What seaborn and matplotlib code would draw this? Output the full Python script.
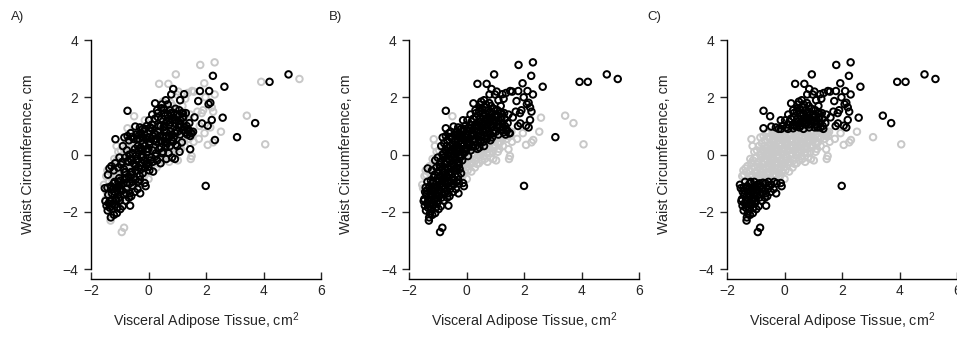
import matplotlib
matplotlib.use("Agg")
import matplotlib.pyplot as plt
import pandas as pd
import seaborn as sns

# Visceral adipose tissue (x) and waist circumference (y), same subjects in all panels
vat = [
    -1.52, -1.48, -1.46, -1.50, -1.45, -1.55, -1.47, -1.43,
    -1.42, -1.38, -1.40, -1.43, -1.37, -1.41, -1.36, -1.39, -1.35,
    -1.31, -1.28, -1.32, -1.27, -1.30, -1.25, -1.33, -1.29, -1.26, -1.30, -1.24, -1.32,
    -1.20, -1.18, -1.22, -1.17, -1.20, -1.15, -1.21, -1.16, -1.19, -1.14, -1.23, -1.18,
    -1.10, -1.08, -1.12, -1.07, -1.10, -1.05, -1.12, -1.06, -1.10, -1.15, -1.05, -1.09, -1.03, -1.11,
    -0.98, -1.00, -0.96, -1.02, -0.97, -1.00, -0.95, -1.01, -0.96, -0.99, -0.94, -0.93, -0.85,
    -0.90, -0.88, -0.92, -0.87, -0.90, -0.86, -0.91, -0.85, -0.89, -0.84, -0.88, -0.83,
    -0.80, -0.78, -0.82, -0.77, -0.80, -0.76, -0.81, -0.75, -0.79, -0.73, -0.73, -0.73, -0.77, -0.74,
    -0.64, -0.68, -0.70, -0.66, -0.69, -0.65, -0.70, -0.67, -0.63, -0.68, -0.62, -0.66, -0.61,
    -0.60, -0.58, -0.56, -0.60, -0.55, -0.59, -0.54, -0.57, -0.52, -0.56, -0.50, -0.58, -0.53,
    -0.48, -0.46, -0.50, -0.45, -0.49, -0.44, -0.47, -0.42, -0.46, -0.43, -0.41, -0.45,
    -0.38, -0.36, -0.40, -0.35, -0.39, -0.34, -0.37, -0.32, -0.36, -0.30, -0.33, -0.29,
    -0.29, -0.27, -0.30, -0.25, -0.28, -0.23, -0.27, -0.22, -0.26, -0.20, -0.13, -0.24, -0.21,
    -0.13, -0.10, -0.15, -0.12, -0.16, -0.10, -0.14, -0.08, -0.12, -0.06, -0.09, -0.05, -0.17,
    0.00, 0.03, -0.02, 0.04, 0.00, 0.05, 0.01, 0.06, 0.02, 0.08, 0.07, -0.03,
    0.16, 0.12, 0.10, 0.14, 0.11, 0.15, 0.12, 0.17, 0.13, 0.23, 0.18, 0.20, 0.19,
    0.28, 0.30, 0.26, 0.31, 0.27, 0.32, 0.29, 0.33, 0.30, 0.37, 0.25, 0.35, 0.36,
    0.42, 0.40, 0.44, 0.41, 0.45, 0.42, 0.46, 0.43, 0.47,
    0.52, 0.50, 0.55, 0.51, 0.56, 0.53, 0.57, 0.54, 0.50, 0.58, 0.55,
    0.62, 0.60, 0.65, 0.61, 0.66, 0.63, 0.67, 0.64, 0.69, 0.60, 0.68,
    0.72, 0.70, 0.75, 0.71, 0.76, 0.73, 0.77, 0.74, 0.79, 0.78, 0.72,
    0.82, 0.80, 0.85, 0.81, 0.86, 0.83, 0.87, 0.86, 0.84, 0.88,
    0.92, 0.90, 0.95, 0.91, 0.96, 0.93, 0.97, 0.95, 0.94, 0.98,
    1.02, 1.00, 1.05, 1.01, 1.06, 1.03, 1.07, 1.10, 1.08, 1.04,
    1.12, 1.10, 1.15, 1.11, 1.16, 1.16, 1.18, 1.13,
    1.24, 1.20, 1.25, 1.22, 1.27, 1.21, 1.28, 1.26,
    1.30, 1.33, 1.31, 1.35, 1.32, 1.36,
    1.45, 1.40, 1.43, 1.42, 1.47, 1.50, 1.51, 1.45, 1.48, 1.55, 1.52, 1.58, 1.60, 1.57,
    1.73, 1.79, 1.80, 1.75, 1.70, 1.78, 1.85, 1.86, 1.94, 1.90, 1.95, 1.98,
    2.06, 2.09, 2.15, 2.11, 2.20, 2.24, 2.30, 2.25, 2.20, 2.15, 2.06, 2.31, 2.25, 2.52, 2.58, 2.64, 2.30, 1.99,
    3.08, 3.42, 3.71, 4.06, 3.92, 4.21, 4.87, 5.25,
]

waist = [
    -1.17, -1.55, -1.78, -1.62, -1.30, -1.05, -0.75, -0.55,
    -1.95, -1.70, -1.40, -1.15, -0.95, -0.70, -0.48, -1.25, -1.85,
    -2.19, -2.05, -1.60, -1.35, -1.10, -0.90, -0.60, -0.40, -1.50, -1.80, -1.20, -2.30,
    -2.10, -1.75, -1.45, -1.30, -1.00, -0.80, -0.55, -0.30, -0.15, -1.55, -1.90, -0.95,
    -2.04, -1.85, -1.60, -1.40, -1.15, -0.95, -0.70, -0.45, -0.20, 0.54, 0.10, -1.25, -1.70, 0.30,
    -1.90, -1.60, -1.35, -1.10, -0.90, -0.60, -0.35, -0.10, 0.15, -1.25, -0.75, -2.70, -2.55,
    -1.80, -1.50, -1.25, -1.00, -0.75, -0.50, -0.25, 0.00, 0.30, 0.60, -1.15, -0.85,
    -1.60, -1.35, -1.10, -0.85, -0.60, -0.35, -0.10, 0.15, 0.40, 0.65, 0.92, 1.53, -1.20, -0.50,
    -1.78, -1.50, -1.25, -1.00, -0.75, -0.50, -0.25, 0.00, 0.25, 0.50, 0.75, -0.90, -0.15,
    -1.45, -1.20, -0.95, -0.70, -0.45, -0.20, 0.05, 0.30, 0.55, 0.80, 1.34, -0.60, -0.05,
    -1.30, -1.05, -0.80, -0.55, -0.30, -0.05, 0.20, 0.45, 0.98, 0.70, 0.10, -0.40,
    -1.20, -0.95, -0.70, -0.45, -0.20, 0.05, 0.30, 0.55, 0.80, 0.95, -0.30, 0.20,
    -1.35, -1.00, -0.75, -0.50, -0.25, 0.00, 0.25, 0.50, 0.75, 0.90, 1.20, -0.10, 0.35,
    -0.99, -1.10, -0.75, -0.45, -0.20, 0.05, 0.30, 0.55, 0.80, 1.00, -0.60, 0.20, 0.60,
    -0.85, -0.55, -0.30, -0.05, 0.20, 0.45, 0.70, 0.95, 1.20, 0.30, -0.20, 0.60,
    -0.59, -0.35, -0.10, 0.15, 0.40, 0.65, 0.90, 1.15, 1.40, 1.79, 0.00, 0.50, 0.85,
    -0.45, -0.20, 0.05, 0.30, 0.55, 0.80, 1.05, 1.30, 1.55, 2.47, 0.70, 0.15, 1.00,
    -0.30, 0.00, 0.25, 0.50, 0.75, 1.00, 1.25, 1.50, 1.75,
    -0.20, 0.10, 0.35, 0.60, 0.85, 1.10, 1.35, 1.60, 1.85, 0.45, 1.00,
    -0.15, 0.15, 0.40, 0.65, 0.90, 1.15, 1.40, 1.65, 2.47, 1.90, 0.55,
    -0.25, 0.05, 0.30, 0.55, 0.80, 1.05, 1.30, 1.55, 2.10, 1.80, 1.20,
    -0.10, 0.20, 0.45, 0.70, 0.95, 1.20, 1.45, 2.29, 1.70, 0.60,
    -0.15, 0.10, 0.35, 0.60, 0.85, 1.10, 1.35, 2.80, 1.60, 2.10,
    -0.20, 0.30, 0.55, 0.80, 1.05, 1.30, 1.55, 1.90, 0.10, 2.20,
    0.45, 0.70, 0.95, 1.20, 1.45, 0.43, 1.70, 0.20,
    2.11, 1.45, 1.10, 0.85, 0.60, 1.30, 1.95, 0.30,
    1.45, 1.00, 0.75, 0.90, 1.25, 2.15,
    0.19, 0.85, 0.70, 1.10, -0.15, -0.05, 2.22, 1.40, 0.75, 0.80, 0.65, 2.20, 1.30, 0.45,
    1.87, 2.22, 3.13, 0.55, 1.50, 1.00, 1.45, 1.09, 2.49, 1.55, 0.75, 2.00,
    1.01, 1.76, 1.81, 2.22, 1.21, 2.75, 3.22, 1.50, 1.65, 0.95, 0.34, 0.51, 0.43, 0.80, 1.29, 2.37, 2.10, -1.09,
    0.61, 1.36, 1.10, 0.36, 2.54, 2.54, 2.80, 2.64,
]

# 1 = drawn black in panel A / panel B
black_a = [
    1, 0, 1, 1, 0, 0, 0, 0,
    1, 1, 1, 1, 0, 1, 1, 0, 1,
    1, 0, 1, 1, 1, 0, 0, 1, 0, 1, 1, 0,
    1, 1, 0, 1, 1, 0, 1, 1, 0, 1, 0, 1,
    1, 1, 1, 0, 1, 1, 0, 1, 0, 1, 0, 1, 0, 0,
    1, 1, 0, 1, 1, 0, 1, 1, 0, 1, 0, 0, 0,
    1, 0, 1, 1, 0, 1, 1, 0, 1, 1, 0, 1,
    1, 1, 0, 1, 1, 0, 1, 1, 0, 1, 0, 1, 1, 0,
    1, 1, 0, 1, 1, 0, 1, 1, 0, 1, 1, 0, 1,
    1, 0, 1, 1, 0, 1, 1, 0, 1, 0, 0, 1, 0,
    1, 0, 1, 1, 0, 1, 1, 0, 1, 1, 0, 1,
    1, 1, 0, 1, 1, 0, 1, 1, 0, 1, 0, 1,
    1, 0, 1, 1, 0, 1, 1, 0, 1, 1, 0, 1, 0,
    1, 1, 0, 1, 1, 0, 1, 1, 0, 1, 0, 1, 1,
    0, 1, 1, 0, 1, 1, 0, 1, 1, 0, 1, 1,
    1, 0, 1, 1, 0, 1, 1, 0, 1, 1, 0, 1, 0,
    0, 1, 1, 0, 1, 1, 0, 1, 1, 0, 1, 0, 1,
    1, 0, 1, 1, 0, 1, 1, 0, 1,
    0, 1, 0, 1, 1, 0, 1, 1, 0, 1, 1,
    1, 0, 1, 1, 0, 1, 1, 0, 0, 1, 1,
    0, 1, 1, 0, 1, 1, 0, 1, 1, 0, 1,
    1, 0, 1, 1, 0, 1, 1, 1, 0, 1,
    1, 0, 1, 0, 1, 1, 0, 0, 1, 0,
    0, 1, 0, 1, 1, 0, 1, 1, 1, 0,
    0, 1, 0, 1, 1, 1, 0, 0,
    1, 1, 0, 1, 0, 1, 0, 0,
    1, 1, 0, 1, 0, 0,
    1, 1, 0, 1, 0, 0, 0, 0, 1, 1, 0, 0, 1, 0,
    1, 1, 0, 0, 0, 0, 0, 1, 0, 0, 0, 0,
    1, 1, 1, 1, 1, 1, 0, 0, 0, 0, 0, 1, 0, 0, 1, 1, 0, 1,
    1, 0, 1, 0, 0, 1, 1, 0,
]

black_b = [
    0, 1, 1, 1, 1, 0, 0, 0,
    1, 1, 1, 1, 1, 0, 1, 1, 1,
    1, 1, 1, 1, 1, 1, 0, 0, 1, 1, 1, 1,
    1, 1, 1, 1, 1, 1, 1, 0, 0, 1, 1, 1,
    1, 1, 1, 1, 1, 1, 1, 1, 1, 0, 0, 1, 1, 0,
    1, 1, 1, 1, 1, 1, 1, 1, 0, 1, 1, 1, 1,
    1, 1, 1, 1, 1, 1, 1, 1, 1, 1, 1, 1,
    1, 1, 1, 1, 1, 1, 1, 1, 1, 1, 1, 1, 1, 1,
    1, 1, 1, 1, 1, 1, 1, 1, 1, 1, 1, 1, 1,
    1, 1, 1, 1, 1, 1, 1, 1, 1, 1, 0, 1, 1,
    1, 1, 1, 1, 1, 1, 1, 1, 1, 1, 1, 1,
    1, 1, 1, 1, 1, 1, 1, 1, 1, 1, 1, 1,
    1, 1, 1, 1, 1, 1, 1, 1, 1, 1, 1, 1, 1,
    1, 1, 0, 0, 1, 1, 1, 1, 1, 1, 0, 1, 1,
    0, 0, 0, 1, 1, 1, 1, 1, 1, 1, 0, 1,
    0, 0, 0, 1, 1, 1, 1, 1, 1, 1, 0, 1, 1,
    0, 0, 0, 1, 1, 1, 1, 1, 1, 1, 1, 0, 1,
    0, 0, 1, 1, 1, 1, 1, 1, 1,
    0, 0, 0, 1, 1, 1, 1, 1, 1, 1, 1,
    0, 0, 0, 1, 1, 1, 1, 1, 1, 1, 1,
    0, 0, 0, 1, 1, 1, 1, 1, 1, 1, 1,
    0, 0, 0, 1, 1, 1, 1, 1, 1, 1,
    0, 0, 0, 0, 1, 1, 1, 1, 1, 1,
    0, 0, 0, 1, 1, 1, 1, 1, 0, 1,
    0, 1, 1, 1, 1, 0, 1, 0,
    1, 1, 1, 1, 0, 1, 1, 0,
    1, 1, 0, 1, 1, 1,
    0, 1, 0, 1, 0, 0, 1, 1, 1, 0, 0, 1, 1, 0,
    1, 1, 1, 0, 1, 1, 1, 1, 1, 1, 0, 1,
    1, 1, 1, 1, 1, 1, 1, 1, 1, 1, 0, 0, 0, 0, 0, 1, 1, 1,
    1, 0, 0, 0, 1, 1, 1, 1,
]

# extra points filling the dense core of the cloud
vat_core = [
    -1.35, -1.25, -1.15, -1.05, -1.02, -0.95, -0.93, -0.85, -0.83, -0.80,
    -0.75, -0.72, -0.71, -0.65, -0.62, -0.60, -0.57, -0.55, -0.52, -0.50,
    -0.45, -0.42, -0.40, -0.37, -0.35, -0.33, -0.30, -0.28, -0.25, -0.22,
    -0.20, -0.18, -0.15, -0.12, -0.08, -0.05, -0.03, 0.00, 0.03, 0.05,
    0.08, 0.10, 0.12, 0.15, 0.18, 0.20, 0.22, 0.25, 0.27, 0.30,
    0.32, 0.35, 0.37, 0.40, 0.42, 0.45, 0.48, 0.50, 0.52, 0.55,
    0.58, 0.60, 0.62, 0.65, 0.67, 0.70, 0.72, 0.75, 0.78, 0.80,
    0.82, 0.85, 0.88, 0.90, 0.92, 0.95, 0.98, 1.00, 1.05, 1.08,
    1.12, 1.15, 1.18, 1.25, 1.28, 1.35, 1.38, 1.40, 1.45, 1.50,
]
waist_core = [
    -1.62, -1.72, -1.18, -1.52, -0.82, -1.05, -0.42, -1.38, -0.62, 0.05,
    -0.98, -0.22, 0.30, -1.35, -0.62, 0.08, 0.62, -1.08, -0.30, 0.35,
    -0.88, -0.15, 0.55, -0.55, 0.15, 0.68, -0.88, -0.38, 0.12, 0.62,
    -0.65, -0.05, 0.42, 0.90, -0.32, 0.10, 0.68, -0.42, 0.35, 0.82,
    -0.10, 0.55, 1.05, -0.25, 0.28, 0.75, 1.25, -0.05, 0.45, 0.92,
    1.45, -0.32, 0.20, 0.65, 1.15, 1.62, 0.05, 0.50, 0.95, 1.45,
    -0.05, 0.30, 0.78, 1.25, 1.75, 0.20, 0.65, 1.12, 1.45, 0.05,
    0.50, 1.05, 1.30, 0.25, 0.75, 1.20, 0.50, 1.40, 0.95, 0.40,
    1.05, 0.60, 1.30, 0.95, 0.78, 0.70, 0.85, 0.55, 0.65, 0.75,
]
black_a_core = [
    1, 1, 1, 1, 1, 1, 0, 1, 1, 0,
    1, 1, 0, 1, 1, 0, 1, 1, 1, 0,
    1, 1, 1, 0, 1, 1, 1, 1, 0, 1,
    1, 1, 0, 1, 1, 1, 0, 1, 1, 1,
    0, 1, 1, 1, 0, 1, 1, 1, 1, 0,
    1, 0, 1, 1, 0, 1, 1, 0, 1, 1,
    0, 1, 1, 0, 1, 0, 1, 1, 1, 0,
    1, 0, 1, 0, 1, 1, 0, 1, 1, 0,
    1, 0, 1, 1, 1, 1, 1, 0, 1, 1,
]
black_b_core = [
    1, 1, 1, 1, 1, 1, 1, 1, 1, 1,
    1, 1, 1, 1, 1, 1, 1, 1, 1, 1,
    1, 1, 1, 1, 1, 1, 1, 1, 1, 1,
    1, 1, 1, 1, 0, 1, 1, 0, 1, 1,
    0, 1, 1, 0, 1, 1, 1, 0, 1, 1,
    1, 0, 1, 1, 1, 1, 0, 1, 1, 1,
    0, 1, 1, 1, 1, 0, 1, 1, 1, 0,
    1, 1, 1, 0, 1, 1, 0, 1, 1, 0,
    1, 0, 1, 1, 1, 1, 1, 0, 0, 1,
]

# panel C: extremes of waist circumference
upper_cut = 0.87
lower_cut = -0.92

panel_labels = ["A)", "B)", "C)"]
x_ticks = [-2, 0, 2, 4, 6]
y_ticks = [-4, -2, 0, 2, 4]

GREY = "#c8c8c8"

df = pd.DataFrame({"vat": vat + vat_core, "waist": waist + waist_core,
                   "A": [b == 1 for b in black_a + black_a_core],
                   "B": [b == 1 for b in black_b + black_b_core]})
df["C"] = (df["waist"] > upper_cut) | (df["waist"] < lower_cut)

sns.set_style("ticks")
plt.rcParams["font.family"] = ["Liberation Sans", "DejaVu Sans"]
plt.rcParams["mathtext.fontset"] = "custom"
plt.rcParams["mathtext.rm"] = "Liberation Sans"
plt.rcParams["mathtext.it"] = "Liberation Sans:italic"

fig = plt.figure(figsize=(9.57, 3.37), dpi=100)
lefts = [91, 409.3, 727]

for i, col in enumerate(["A", "B", "C"]):
    ax = fig.add_axes([lefts[i] / 957, 0.2009, 230 / 957, 0.6804])
    sns.scatterplot(data=df[~df[col]], x="vat", y="waist", ax=ax, marker="o", s=22,
                    facecolor="none", edgecolor=GREY, linewidth=1.4)
    sns.scatterplot(data=df[df[col]], x="vat", y="waist", ax=ax, marker="o", s=22,
                    facecolor="none", edgecolor="black", linewidth=1.4)

    ax.set_xlim(-2, 6)
    ax.set_ylim(-4, 4)
    ax.set_xticks(x_ticks)
    ax.set_yticks(y_ticks)
    sns.despine(ax=ax)
    ax.spines["left"].set_bounds(-4, 4)
    ax.spines["bottom"].set_bounds(-2, 6)
    ax.spines["bottom"].set_position(("outward", 7))
    for s in ["left", "bottom"]:
        ax.spines[s].set_linewidth(1.0)
        ax.spines[s].set_color("black")
    ax.tick_params(axis="y", direction="out", length=5, width=1, pad=4, labelsize=10)
    ax.tick_params(axis="x", direction="in", length=5, width=1, pad=3.5, labelsize=10)

    ax.set_xlabel("Visceral Adipose Tissue, cm$^2$", fontsize=10.3)
    ax.set_ylabel("Waist Circumference, cm", fontsize=10.3)
    ax.xaxis.set_label_coords(0.5, -0.18)
    ax.yaxis.set_label_coords(-0.245, 0.5)

    fig.text((lefts[i] - 80) / 957, 0.95, panel_labels[i], fontsize=9.5, va="center")

fig.savefig("out.png", dpi=100)
